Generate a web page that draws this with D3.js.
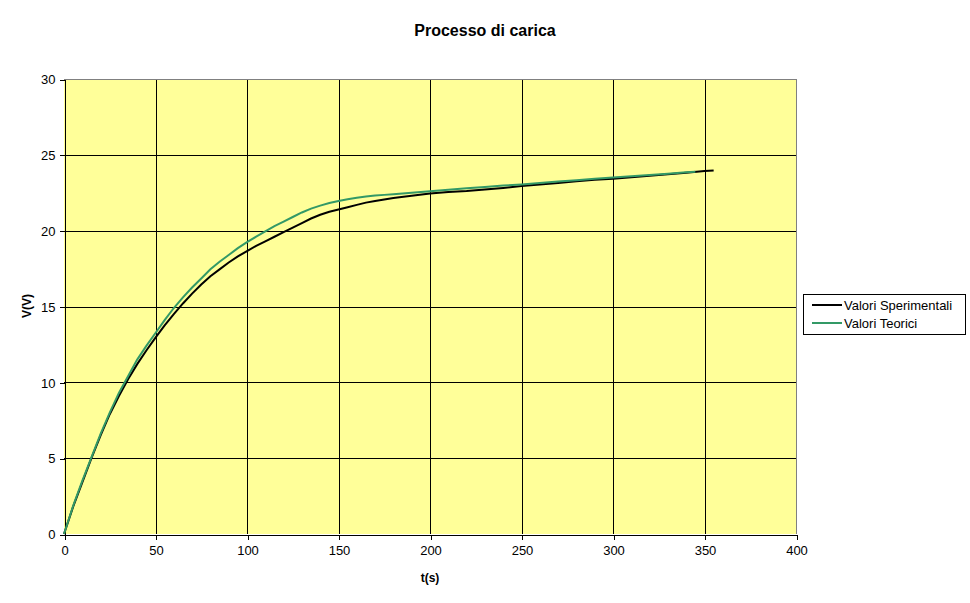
<!DOCTYPE html>
<html>
<head>
<meta charset="utf-8">
<script src="https://cdn.jsdelivr.net/npm/d3@7"></script>
<style>
  html, body { margin: 0; padding: 0; background: #fff; }
  svg { display: block; font-family: "Liberation Sans", Arial, sans-serif; }
</style>
</head>
<body>
<svg id="chart" width="970" height="603"></svg>
<script>
const title = "Processo di carica";
const xLabel = "t(s)";
const yLabel = "V(V)";
const seriesNames = ["Valori Sperimentali", "Valori Teorici"];
const xTicks = [0, 50, 100, 150, 200, 250, 300, 350, 400];
const yTicks = [0, 5, 10, 15, 20, 25, 30];

const tExp = [0,5,10,15,20,25,30,35,40,45,50,55,60,65,70,75,80,85,90,95,100,105,110,115,120,125,130,135,140,145,150,155,160,165,170,175,180,190,200,210,220,230,240,250,260,270,280,290,300,310,320,330,340,350,355];
const vExp = [0,1.8,3.4,5.0,6.5,7.9,9.1,10.2,11.2,12.1,12.95,13.75,14.5,15.2,15.85,16.45,17.0,17.45,17.9,18.3,18.65,19.0,19.3,19.6,19.9,20.2,20.5,20.8,21.05,21.25,21.4,21.55,21.7,21.85,21.95,22.05,22.15,22.3,22.45,22.55,22.62,22.72,22.82,22.94,23.04,23.14,23.25,23.35,23.43,23.52,23.62,23.72,23.82,23.93,23.97];

const tTeo = [0,5,10,15,20,25,30,35,40,45,50,55,60,65,70,75,80,85,90,95,100,105,110,115,120,125,130,135,140,145,150,155,160,165,170,175,180,190,200,210,220,230,240,250,260,270,280,290,300,310,320,330,340,345];
const vTeo = [0,1.85,3.5,5.05,6.6,8.0,9.3,10.4,11.5,12.4,13.25,14.1,14.9,15.6,16.25,16.85,17.45,17.95,18.4,18.85,19.25,19.6,19.95,20.3,20.6,20.9,21.2,21.45,21.65,21.82,21.95,22.07,22.17,22.26,22.32,22.36,22.4,22.5,22.6,22.7,22.79,22.88,22.97,23.05,23.14,23.24,23.33,23.42,23.5,23.59,23.67,23.76,23.85,23.89];

const colors = ["#000000", "#339966"];

const svg = d3.select("#chart");
const L = 64, R = 796, T = 79, B = 534;
const x = d3.scaleLinear().domain([0, 400]).range([L, R]);
const y = d3.scaleLinear().domain([0, 30]).range([B, T]);

// plot area background
svg.append("rect").attr("x", L).attr("y", T).attr("width", R - L).attr("height", B - T)
  .attr("fill", "#FFFF99");

// gridlines
const g = svg.append("g").attr("shape-rendering", "crispEdges");
g.selectAll(".vg").data(xTicks.filter(d => d > 0 && d < 400)).enter().append("line")
  .attr("x1", d => Math.round(x(d)) + 0.5).attr("x2", d => Math.round(x(d)) + 0.5)
  .attr("y1", T).attr("y2", B).attr("stroke", "#000").attr("stroke-width", 1);
g.selectAll(".hg").data(yTicks.filter(d => d > 0 && d < 30)).enter().append("line")
  .attr("x1", L).attr("x2", R)
  .attr("y1", d => Math.round(y(d)) + 0.5).attr("y2", d => Math.round(y(d)) + 0.5)
  .attr("stroke", "#000").attr("stroke-width", 1);
// top & right border gray
g.append("line").attr("x1", L).attr("x2", R).attr("y1", T + 0.5).attr("y2", T + 0.5).attr("stroke", "#808080");
g.append("line").attr("x1", R + 0.5).attr("x2", R + 0.5).attr("y1", T).attr("y2", B).attr("stroke", "#808080");

// axes
const xAxis = d3.axisBottom(x).tickValues(xTicks).tickSize(5).tickSizeOuter(0).tickPadding(6);
const yAxis = d3.axisLeft(y).tickValues(yTicks).tickSize(5).tickSizeOuter(0).tickPadding(4);
const gx = svg.append("g").attr("transform", `translate(0.5,${B + 0.5})`).call(xAxis);
const gy = svg.append("g").attr("transform", `translate(${L + 0.5},0.5)`).call(yAxis);
[gx, gy].forEach(a => {
  a.attr("shape-rendering", "crispEdges");
  a.select(".domain").attr("stroke", "#000");
  a.selectAll(".tick line").attr("stroke", "#000");
  a.selectAll("text").attr("font-size", 13).attr("fill", "#000")
    .attr("font-family", "'Liberation Sans', Arial, sans-serif");
});

// lines
const line = d3.line().x(d => x(d[0])).y(d => y(d[1]));
const expData = tExp.map((t, i) => [t, vExp[i]]);
const teoData = tTeo.map((t, i) => [t, vTeo[i]]);
svg.append("path").datum(expData).attr("d", line).attr("fill", "none")
  .attr("stroke", colors[0]).attr("stroke-width", 2);
svg.append("path").datum(teoData).attr("d", line).attr("fill", "none")
  .attr("stroke", colors[1]).attr("stroke-width", 2);

// title and axis labels
svg.append("text").attr("x", 485).attr("y", 36).attr("text-anchor", "middle")
  .attr("font-size", 16).attr("font-weight", "bold").text(title);
svg.append("text").attr("x", 430).attr("y", 582).attr("text-anchor", "middle")
  .attr("font-size", 12).attr("font-weight", "bold").text(xLabel);
svg.append("text").attr("transform", "translate(31,306) rotate(-90)").attr("text-anchor", "middle")
  .attr("font-size", 12).attr("font-weight", "bold").text(yLabel);

// legend
const lg = svg.append("g");
lg.append("rect").attr("x", 803.5).attr("y", 294.5).attr("width", 162).attr("height", 40)
  .attr("fill", "#fff").attr("stroke", "#000").attr("stroke-width", 1).attr("shape-rendering", "crispEdges");
seriesNames.forEach((name, i) => {
  const yy = 305 + i * 18;
  lg.append("line").attr("x1", 812).attr("x2", 842).attr("y1", yy).attr("y2", yy)
    .attr("stroke", colors[i]).attr("stroke-width", 2);
  lg.append("text").attr("x", 844).attr("y", yy + 4.5).attr("font-size", 13).text(name);
});
</script>
</body>
</html>
